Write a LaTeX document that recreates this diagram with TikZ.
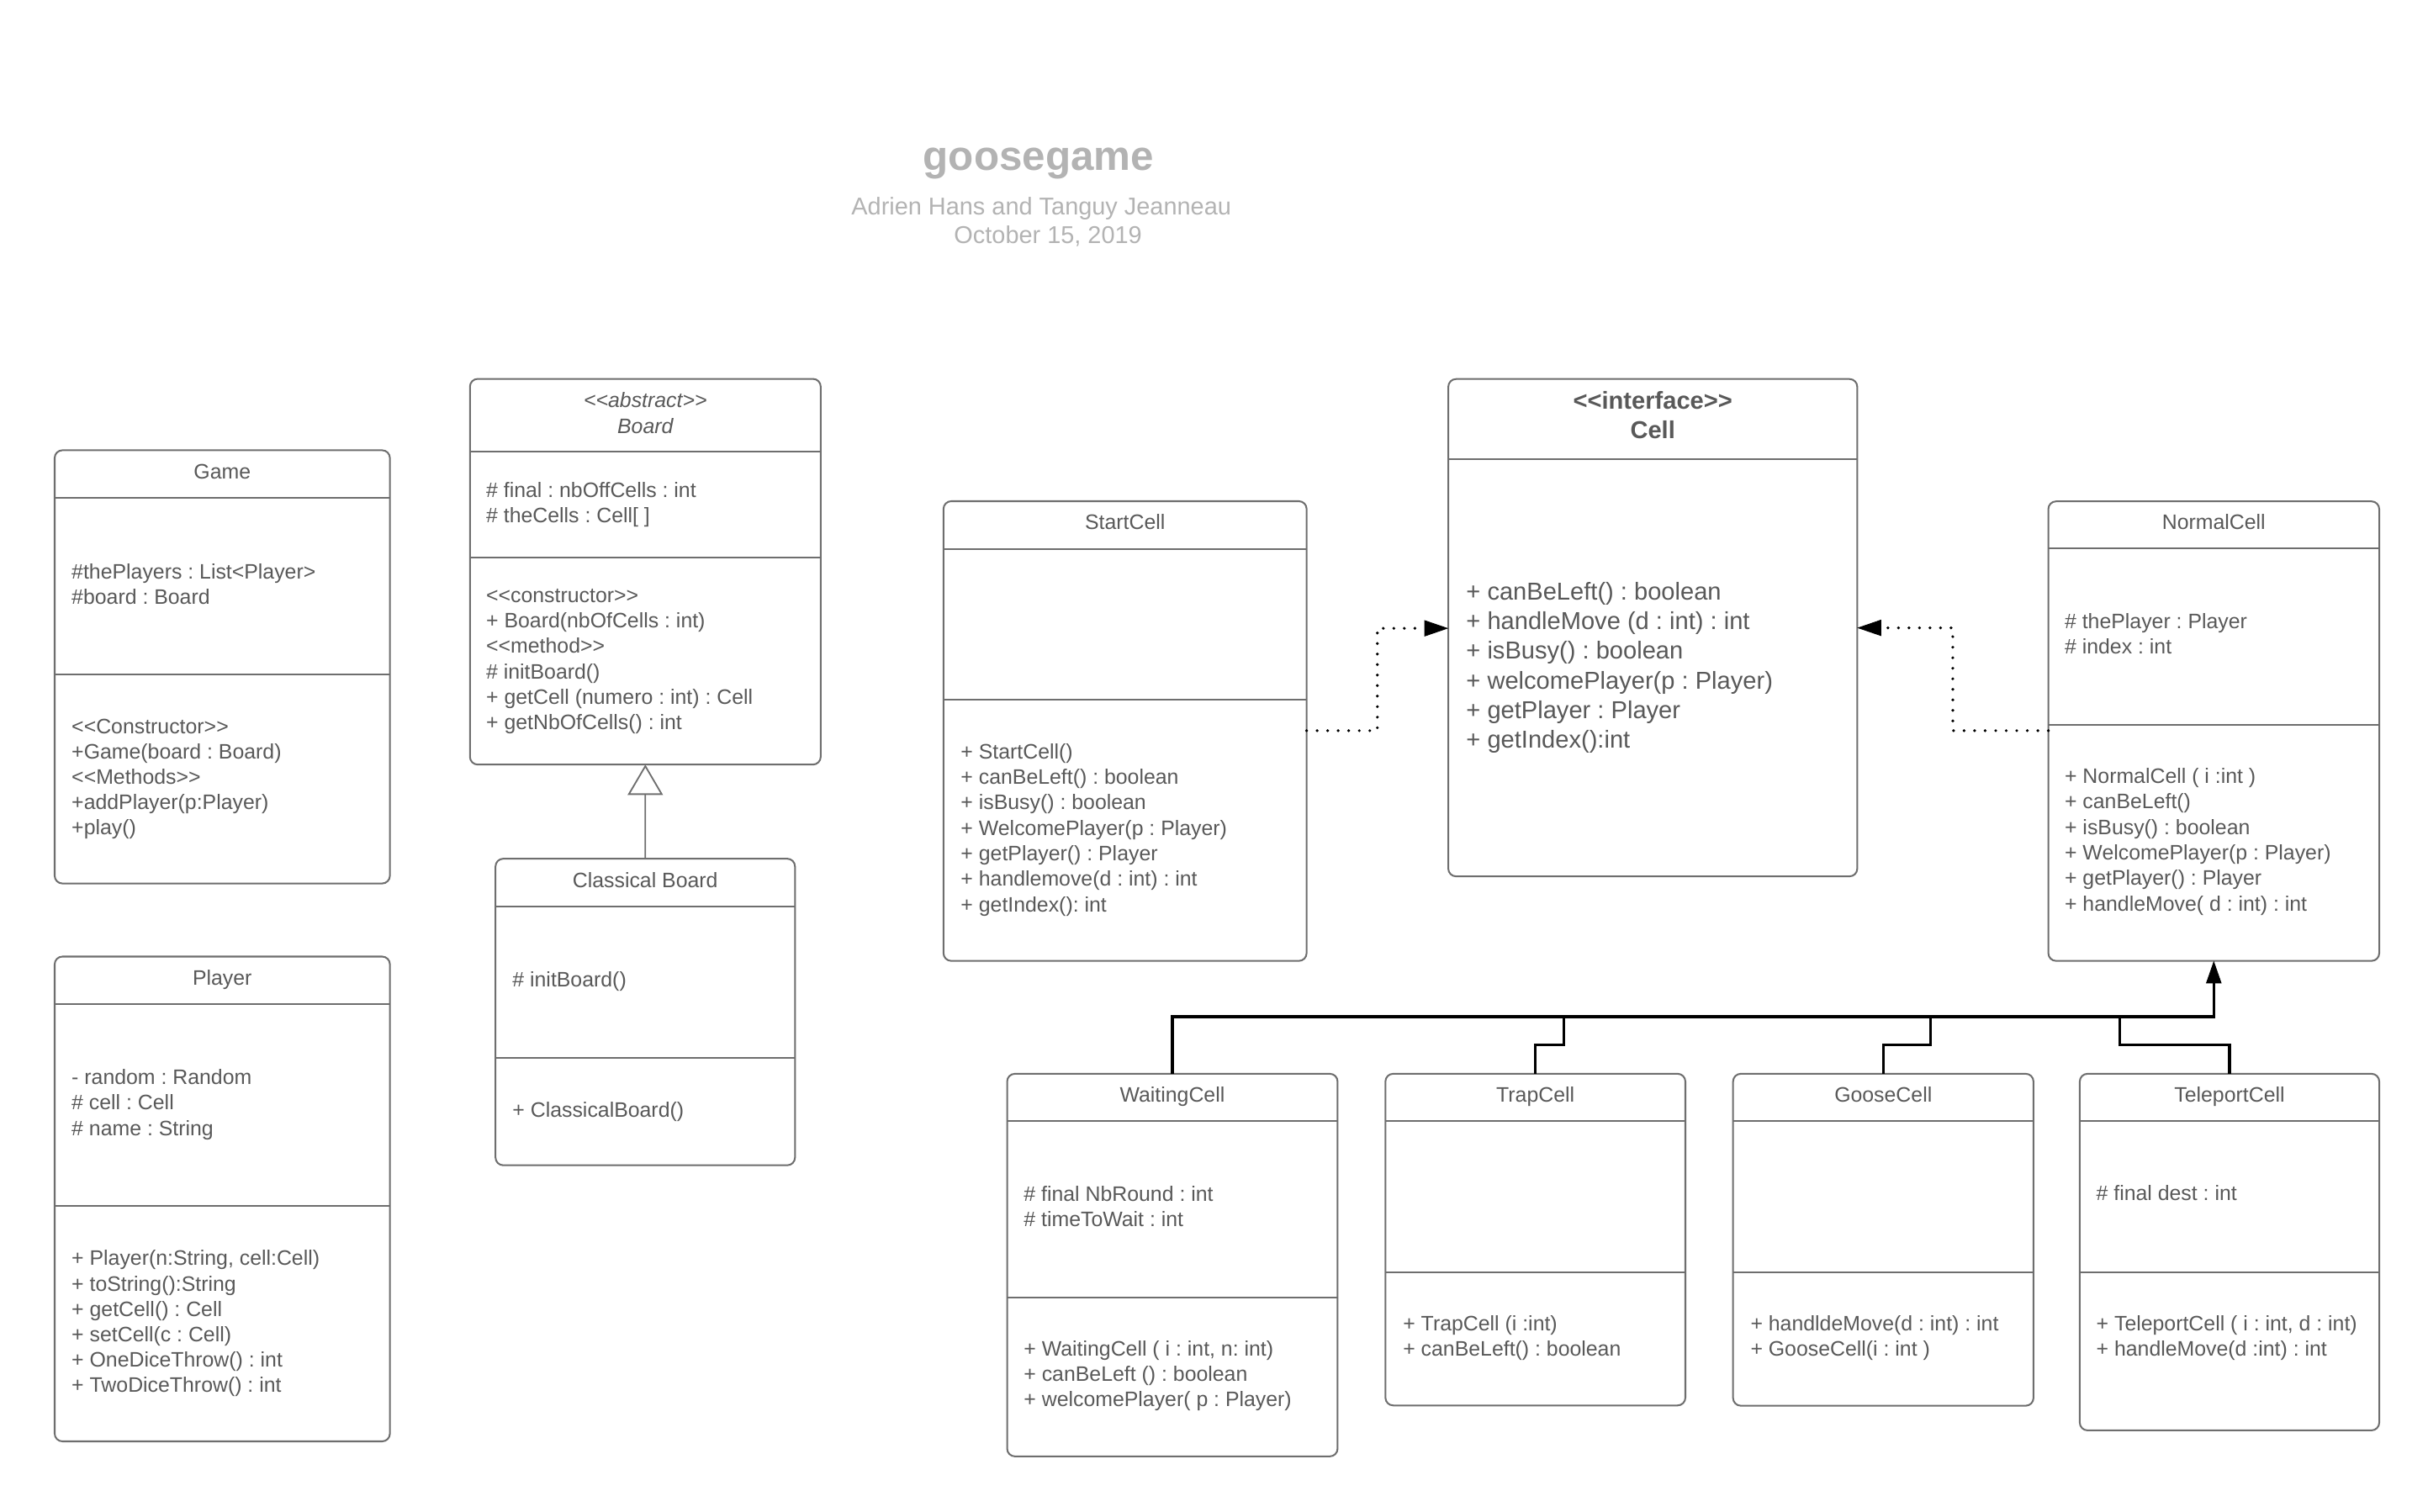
\documentclass[tikz,border=0pt]{standalone}
\usepackage{fontspec}
\setmainfont{Liberation Sans}
\usetikzlibrary{arrows.meta,calc}
\definecolor{txtc}{HTML}{595959}
\definecolor{linec}{HTML}{6E6E6E}
\definecolor{titlec}{HTML}{B3B3B3}
\tikzset{
 umlbox/.style={draw=linec, line width=1.1pt, rounded corners=5pt, fill=white, inner sep=0pt, outer sep=0pt, anchor=north west},
 divider/.style={draw=linec, line width=1.1pt},
 mem/.style={font=\frenchspacing\fontsize{13.5}{16}\selectfont, text=txtc, inner sep=0pt, anchor=base west},
 hdr/.style={mem, anchor=base},
 ithdr/.style={hdr, font=\frenchspacing\itshape\fontsize{13.5}{16}\selectfont},
 bighdr/.style={hdr, font=\frenchspacing\bfseries\fontsize{15.8}{19}\selectfont},
 bigmem/.style={mem, font=\frenchspacing\fontsize{15.8}{19}\selectfont},
 dep/.style={draw=black, line width=2pt, line cap=round, dash pattern=on 0pt off 6.8pt, -{Triangle[length=15.5pt, width=10.5pt, line width=0.5pt]}},
 inh/.style={draw=black, line width=1.8pt},
 gen/.style={draw=linec, line width=1pt, -{Triangle[open, length=19.6pt, width=22.7pt, fill=white, line width=1pt]}},
}
\newcommand\umlclass[7]{%
 \node[umlbox, minimum width=#4pt, minimum height=#5pt] (#1) at (#2,#3) {};
 \draw[divider] (#1.west |- 0,#6) -- (#1.east |- 0,#6);
 \ifx\relax#7\relax\else\draw[divider] (#1.west |- 0,#7) -- (#1.east |- 0,#7);\fi}
\newcommand\mems[6][mem]{\foreach \mtext [count=\i from 0] in {#6} \node[#1] (#2-\i) at (#3,#4+\i*#5) {\mtext};}
\begin{document}
\frenchspacing
\begin{tikzpicture}[x=1pt,y=-1pt]
\fill[white] (0,0) rectangle (1568,976.5);
\useasboundingbox (0,0) rectangle (1568,976.5);

% title
\node[font=\bfseries\fontsize{26.8}{30}\selectfont, text=titlec, inner sep=0pt, anchor=base] (title) at (670.7,110.1) {goosegame};
\node[font=\fontsize{15.7}{18}\selectfont, text=titlec, inner sep=0pt, anchor=base] (authors) at (672.5,138.6) {Adrien Hans and Tanguy Jeanneau};
\node[font=\fontsize{15.7}{18}\selectfont, text=titlec, inner sep=0pt, anchor=base] (date) at (676.8,157) {October 15, 2019};

% Game
\umlclass{game}{35.3}{290.8}{216.5}{279.8}{321.6}{435.5}
\node[hdr] (game-h) at (game.north |- 0,309.4) {Game};
\mems{game-a}{46.1}{373.8}{16.3}{\#thePlayers : List<Player>, \#board : Board}
\mems{game-m}{46.1}{473.6}{16.3}{<{}<Constructor>{}>, +Game(board : Board), <{}<Methods>{}>, +addPlayer(p:Player), +play()}

% Player
\umlclass{player}{35.3}{617.8}{216.5}{313.1}{648.4}{778.9}
\node[hdr] (player-h) at (player.north |- 0,636.2) {Player};
\mems{player-a}{46.1}{700.4}{16.5}{- random : Random, \# cell : Cell, \# name : String}
\mems{player-m}{46.1}{817.3}{16.4}{{+ Player(n:String, cell:Cell)}, + toString():String, + getCell() : Cell, + setCell(c : Cell), + OneDiceThrow() : int, + TwoDiceThrow() : int}

% Board
\umlclass{board}{303.5}{244.7}{226.5}{249.1}{291.5}{360}
\node[ithdr] (board-s) at (board.north |- 0,262.9) {<{}<abstract>{}>};
\node[ithdr] (board-h) at (board.north |- 0,279.8) {Board};
\mems{board-a}{313.8}{321}{16.3}{\# final : nbOffCells : int, \# theCells : Cell[ ]}
\mems{board-m}{313.8}{388.9}{16.5}{<{}<constructor>{}>, + Board(nbOfCells : int), <{}<method>{}>, \# initBoard(), + getCell (numero : int) : Cell, + getNbOfCells() : int}

% Classical Board
\umlclass{classical}{320}{554.6}{193.4}{198}{585.3}{683}
\node[hdr] (classical-h) at (classical.north |- 0,573) {Classical Board};
\mems{classical-a}{330.8}{637.2}{16.5}{\# initBoard()}
\mems{classical-m}{330.8}{721.4}{16.5}{+ ClassicalBoard()}

% StartCell
\umlclass{startcell}{609.3}{323.7}{234.5}{296.9}{354.4}{451.9}
\node[hdr] (startcell-h) at (startcell.north |- 0,342) {StartCell};
\mems{startcell-m}{620.3}{490.1}{16.45}{+ StartCell(), + canBeLeft() : boolean, + isBusy() : boolean, + WelcomePlayer(p : Player), + getPlayer() : Player, + handlemove(d : int) : int, + getIndex(): int}

% Cell interface
\umlclass{cell}{935.3}{244.8}{264.1}{321.2}{296.7}{}
\node[bighdr] (cell-s) at (cell.north |- 0,264.5) {<{}<interface>{}>};
\node[bighdr] (cell-h) at (cell.north |- 0,283.5) {Cell};
\mems[bigmem]{cell-m}{946.7}{387.6}{19.1}{+ canBeLeft() : boolean, + handleMove (d : int) : int, + isBusy() : boolean, + welcomePlayer(p : Player), + getPlayer : Player, + getIndex():int}

% NormalCell
\umlclass{normal}{1322.8}{323.8}{213.7}{296.8}{354.1}{468.4}
\node[hdr] (normal-h) at (normal.north |- 0,342) {NormalCell};
\mems{normal-a}{1333.2}{406}{16.5}{\# thePlayer : Player, \# index : int}
\mems{normal-m}{1333.2}{505.8}{16.5}{+ NormalCell ( i :int ), + canBeLeft(), + isBusy() : boolean, + WelcomePlayer(p : Player), + getPlayer() : Player, + handleMove( d : int) : int}

% WaitingCell
\umlclass{wait}{650.4}{693.5}{213.4}{247.1}{723.9}{838}
\node[hdr] (wait-h) at (wait.north |- 0,711.6) {WaitingCell};
\mems{wait-a}{661}{775.8}{16.3}{\# final NbRound : int, \# timeToWait : int}
\mems{wait-m}{661}{876}{16.3}{{+ WaitingCell ( i : int, n: int)}, + canBeLeft () : boolean, + welcomePlayer( p : Player)}

% TrapCell
\umlclass{trap}{894.7}{693.5}{193.7}{214.2}{723.9}{821.7}
\node[hdr] (trap-h) at (trap.north |- 0,711.6) {TrapCell};
\mems{trap-m}{905.9}{859.7}{16.3}{+ TrapCell (i :int), + canBeLeft() : boolean}

% GooseCell
\umlclass{goose}{1119.2}{693.5}{194}{214.4}{723.9}{821.7}
\node[hdr] (goose-h) at (goose.north |- 0,711.6) {GooseCell};
\mems{goose-m}{1130.3}{859.7}{16.3}{+ handldeMove(d : int) : int, + GooseCell(i : int )}

% TeleportCell
\umlclass{teleport}{1343.1}{693.5}{193.4}{230.3}{723.9}{821.7}
\node[hdr] (teleport-h) at (teleport.north |- 0,711.6) {TeleportCell};
\mems{teleport-a}{1353.6}{775.3}{16.3}{\# final dest : int}
\mems{teleport-m}{1353.6}{859.7}{16.3}{{+ TeleportCell ( i : int, d : int)}, + handleMove(d :int) : int}

% generalization Classical Board -> Board
\draw[gen] (classical.north) -- (board.south);

% realization (dotted) to Cell
\coordinate (dA) at (889.5,471.9);
\coordinate (dB) at (889.5,405.8);
\coordinate (dC) at (1261.1,471.9);
\coordinate (dD) at (1261.1,405.5);
\draw[dep] (startcell.east |- dA) -- (dA) -- (dB) -- (cell.west |- dB);
\draw[dep] (normal.west |- dC) -- (dC) -- (dD) -- (cell.east |- dD);

% inheritance to NormalCell
\coordinate (bus) at (1429.65,656.7);
\coordinate (tstep) at (1010,675);
\coordinate (gstep) at (1246.6,675);
\coordinate (pstep) at (1369,675);
\draw[inh, -{Triangle[length=14.5pt, width=10pt, line width=0.5pt]}] (wait.north) |- (bus) -- (normal.south);
\draw[inh] (trap.north) |- (tstep) -- (tstep |- bus);
\draw[inh] (goose.north) |- (gstep) -- (gstep |- bus);
\draw[inh] (teleport.north) |- (pstep) -- (pstep |- bus);
\end{tikzpicture}
\end{document}
